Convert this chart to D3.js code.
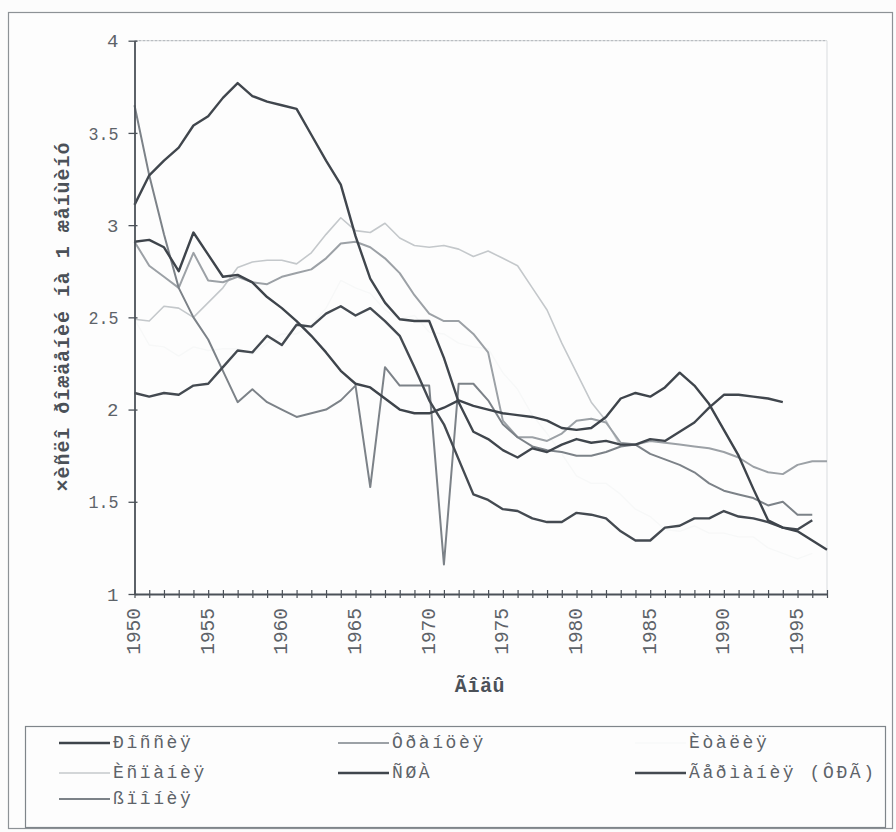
<!DOCTYPE html>
<html><head><meta charset="utf-8">
<script src="https://cdn.jsdelivr.net/npm/d3@7/dist/d3.min.js"></script>
<style>body{margin:0;background:#fcfcfc}svg{display:block}</style>
</head><body>
<svg id="c" width="896" height="832"></svg>
<script>
// ---- data (first value = 1950, one value per year) ----
const startYear = 1950;
const endYear = 1997;
const xTickLabels = [1950,1955,1960,1965,1970,1975,1980,1985,1990,1995];
const yTickValues = [1,1.5,2,2.5,3,3.5,4];
const yAxisTitle = "×èñëî ðîæäåíèé íà 1 æåíùèíó";
const xAxisTitle = "Ãîäû";

const russia  = [2.91,2.92,2.88,2.75,2.96,2.84,2.72,2.73,2.69,2.61,2.55,2.48,2.40,2.31,2.21,2.14,2.12,2.06,2.00,1.98,1.98,2.01,2.05,2.02,2.00,1.98,1.97,1.96,1.94,1.90,1.89,1.90,1.96,2.06,2.09,2.07,2.12,2.20,2.13,2.03,1.89,1.75,1.57,1.40,1.36,1.34,1.29,1.24];
const france  = [2.91,2.78,2.72,2.66,2.85,2.70,2.69,2.72,2.69,2.68,2.72,2.74,2.76,2.82,2.90,2.91,2.88,2.82,2.74,2.62,2.52,2.48,2.48,2.41,2.31,1.94,1.85,1.85,1.83,1.87,1.94,1.95,1.93,1.82,1.81,1.83,1.82,1.81,1.80,1.79,1.77,1.74,1.69,1.66,1.65,1.70,1.72,1.72];
const italy   = [2.49,2.35,2.34,2.29,2.34,2.32,2.33,2.33,2.30,2.36,2.41,2.41,2.46,2.55,2.70,2.66,2.63,2.54,2.49,2.51,2.42,2.41,2.36,2.34,2.33,2.20,2.11,1.97,1.87,1.76,1.64,1.60,1.60,1.54,1.46,1.42,1.35,1.34,1.37,1.33,1.33,1.31,1.31,1.25,1.22,1.19,1.22];
const spain   = [2.49,2.48,2.56,2.55,2.50,2.58,2.66,2.77,2.80,2.81,2.81,2.79,2.85,2.95,3.04,2.97,2.96,3.01,2.93,2.89,2.88,2.89,2.87,2.83,2.86,2.82,2.78,2.66,2.54,2.36,2.20,2.04,1.94,1.80];
const usa     = [3.11,3.27,3.35,3.42,3.54,3.59,3.69,3.77,3.70,3.67,3.65,3.63,3.49,3.35,3.22,2.94,2.71,2.58,2.49,2.48,2.48,2.28,2.04,1.88,1.84,1.78,1.74,1.79,1.77,1.81,1.84,1.82,1.83,1.81,1.81,1.84,1.83,1.88,1.93,2.01,2.08,2.08,2.07,2.06,2.04];
const germany = [2.09,2.07,2.09,2.08,2.13,2.14,2.23,2.32,2.31,2.40,2.35,2.46,2.45,2.52,2.56,2.51,2.55,2.48,2.40,2.23,2.05,1.92,1.73,1.54,1.51,1.46,1.45,1.41,1.39,1.39,1.44,1.43,1.41,1.34,1.29,1.29,1.36,1.37,1.41,1.41,1.45,1.42,1.41,1.39,1.36,1.35,1.40];
const japan   = [3.65,3.27,2.95,2.66,2.50,2.38,2.21,2.04,2.11,2.04,2.00,1.96,1.98,2.00,2.05,2.13,1.58,2.23,2.13,2.13,2.13,1.16,2.14,2.14,2.05,1.92,1.85,1.80,1.78,1.77,1.75,1.75,1.77,1.80,1.81,1.76,1.73,1.70,1.66,1.60,1.56,1.54,1.52,1.48,1.50,1.43,1.43];

const seriesNames  = ["Ðîññèÿ","Ôðàíöèÿ","Èòàëèÿ","Èñïàíèÿ","ÑØÀ","Ãåðìàíèÿ (ÔÐÃ)","ßïîíèÿ"];
const seriesValues = [russia, france, italy, spain, usa, germany, japan];
const seriesColors = ["#3e444b","#9ca1a6","#f7f8f8","#c4c8cb","#40464d","#444a51","#7c8288"];
const seriesWidths = [2.4,2,1.4,1.6,2.4,2.4,2];
const drawOrder = [2,3,1,6,5,4,0];

// ---- chart ----
const svg = d3.select("#c");
const font = "'Liberation Mono','Courier New',monospace";
const axisColor = "#4b5158";
const textColor = "#5d6369";

svg.append("rect").attr("x",8.5).attr("y",12.5).attr("width",884).attr("height",816)
  .attr("fill","#fdfdfd").attr("stroke","#8d9296").attr("stroke-width",1.2);

const x = d3.scaleLinear().domain([startYear, endYear]).range([134.5, 827]);
const y = d3.scaleLinear().domain([1, 4]).range([594, 40.7]);

// plot frame (top/right)
svg.append("line").attr("x1",x(startYear)).attr("x2",x(endYear)).attr("y1",y(4)).attr("y2",y(4))
  .attr("stroke","#b9bdc1").attr("stroke-width",1.3).attr("stroke-dasharray","3,1");
svg.append("line").attr("x1",x(endYear)).attr("x2",x(endYear)).attr("y1",y(4)).attr("y2",y(1))
  .attr("stroke","#dfe2e4").attr("stroke-width",1.2);

// series
const line = d3.line().x((d,i)=>x(startYear+i)).y(d=>y(d));
const g = svg.append("g");
drawOrder.forEach(k=>{
  g.append("path").datum(seriesValues[k]).attr("d",line)
   .attr("fill","none").attr("stroke",seriesColors[k]).attr("stroke-width",seriesWidths[k])
   .attr("stroke-linejoin","round");
});

// y axis
const yAxis = d3.axisLeft(y).tickValues(yTickValues).tickSize(0).tickFormat(d3.format("")).tickPadding(16);
const ya = svg.append("g").attr("transform",`translate(${x(startYear)},0)`).call(yAxis);
ya.select(".domain").attr("stroke",axisColor).attr("stroke-width",1.8);
ya.selectAll(".tick text").attr("font-family",font).attr("font-size",19).attr("fill",textColor)
  .each(function(d){ if(String(d).length>1) d3.select(this).attr("textLength",30).attr("lengthAdjust","spacingAndGlyphs"); });
ya.selectAll(".tick").append("line").attr("x1",-6).attr("x2",3).attr("stroke",axisColor).attr("stroke-width",1.3);

// x axis
const xAxis = d3.axisBottom(x).tickValues(d3.range(startYear, endYear+1)).tickSize(0).tickFormat("");
const xa = svg.append("g").attr("transform",`translate(0,${y(1)})`).call(xAxis);
xa.select(".domain").attr("stroke",axisColor).attr("stroke-width",1.8);
xa.selectAll(".tick").append("line").attr("y1",-4).attr("y2",4).attr("stroke",axisColor).attr("stroke-width",1.2);
xa.selectAll(".tick").filter(d=>xTickLabels.includes(d)).append("text")
  .text(d=>d).attr("transform","translate(0,14) rotate(-90)")
  .attr("text-anchor","end").attr("dominant-baseline","central")
  .attr("font-family",font).attr("font-size",19.5).attr("fill",textColor);

// axis titles
svg.append("text").text(xAxisTitle).attr("x",480).attr("y",686)
  .attr("text-anchor","middle").attr("dominant-baseline","central")
  .attr("font-family",font).attr("font-weight","bold").attr("font-size",20).attr("letter-spacing",0.6)
  .attr("fill",axisColor);
svg.append("text").text(yAxisTitle).attr("transform","translate(63,317) rotate(-90)")
  .attr("text-anchor","middle").attr("dominant-baseline","central")
  .attr("font-family",font).attr("font-weight","bold").attr("font-size",20)
  .attr("textLength",349).attr("lengthAdjust","spacing")
  .attr("fill",axisColor);

// legend
svg.append("rect").attr("x",25.5).attr("y",726.5).attr("width",860).attr("height",101)
  .attr("fill","none").attr("stroke","#7f858a").attr("stroke-width",1.2);
const colX = [59, 338, 635];
const rowY = [743, 773, 799];
seriesNames.forEach((name,i)=>{
  const cx = colX[i%3], cy = rowY[Math.floor(i/3)];
  svg.append("line").attr("x1",cx).attr("x2",cx+51).attr("y1",cy).attr("y2",cy)
    .attr("stroke",seriesColors[i]).attr("stroke-width",seriesWidths[i]);
  svg.append("text").text(name).attr("x",cx+54).attr("y",cy)
    .attr("dominant-baseline","central").attr("font-family",font).attr("font-size",18)
    .attr("letter-spacing",2.6).attr("fill",textColor);
});
</script>
</body></html>
